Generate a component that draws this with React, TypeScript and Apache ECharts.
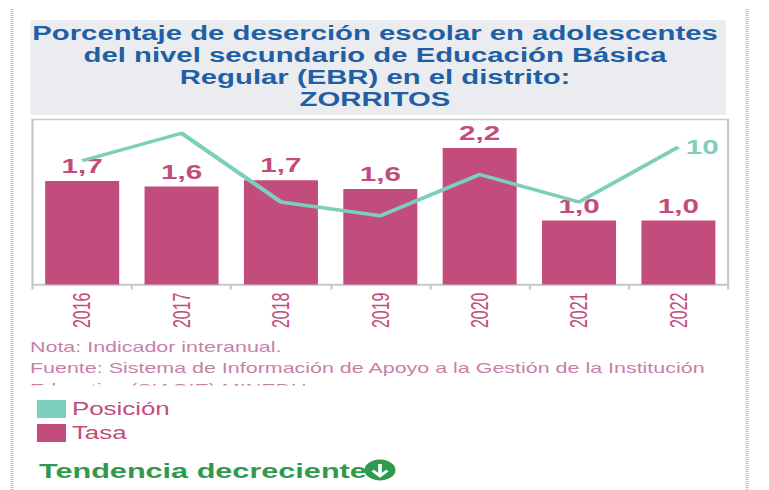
import React, { useEffect, useRef } from "react";
import * as echarts from "echarts";

const years = ["2016", "2017", "2018", "2019", "2020", "2021", "2022"];
const tasa = [1.67, 1.58, 1.68, 1.54, 2.2, 1.03, 1.03];
const tasaLabels = ["1,7", "1,6", "1,7", "1,6", "2,2", "1,0", "1,0"];
const posicion = [11, 9, 14, 15, 12, 14, 10];
const titleLines = [
  "Porcentaje de deserción escolar en adolescentes",
  "del nivel secundario de Educación Básica",
  "Regular (EBR) en el distrito:",
  "ZORRITOS",
];
const notes = [
  "Nota: Indicador interanual.",
  "Fuente: Sistema de Información de Apoyo a la Gestión de la Institución",
  "Educativa (SIAGIE) MINEDU",
];
const trendText = "Tendencia decreciente";

const S = 1.48; // the reference is stretched horizontally
const X = (v: number) => v / S;
const PINK = "#c24c7c";
const TEAL = "#7dcfbc";
const FONT = "'Liberation Sans', Arial, sans-serif";

export default function App() {
  const ref = useRef<HTMLDivElement>(null);
  useEffect(() => {
    const chart = echarts.init(ref.current!, undefined, { renderer: "svg" });
    chart.setOption({
      animation: false,
      textStyle: { fontFamily: FONT },
      title: {
        text: titleLines.join("\n"),
        left: X(375),
        top: 22,
        padding: 0,
        textAlign: "center",
        textStyle: { fontFamily: FONT, fontWeight: "bold", fontSize: 19.8, lineHeight: 22, color: "#1f5fa3" },
      },
      grid: {
        left: X(32.5),
        right: X(769 - 727.5),
        top: 119.5,
        height: 165,
        show: true,
        borderColor: "#c8c8c8",
        borderWidth: 1.5,
        containLabel: false,
      },
      legend: {
        orient: "vertical",
        left: X(37),
        top: 400,
        itemWidth: X(29),
        itemHeight: 18,
        itemGap: 6,
        padding: 0,
        selectedMode: false,
        textStyle: { color: PINK, fontSize: 17.5, fontFamily: FONT, padding: [0, 0, 0, -1] },
        data: [
          { name: "Posición", icon: "rect", itemStyle: { color: TEAL } },
          { name: "Tasa", icon: "rect", itemStyle: { color: PINK } },
        ],
      },
      xAxis: {
        type: "category",
        data: years,
        axisLine: { show: true, lineStyle: { color: "#c8c8c8", width: 1.5 } },
        axisTick: { show: true, length: 5, lineStyle: { color: "#c8c8c8", width: 1.5 } },
        axisLabel: { rotate: 90, color: PINK, fontSize: 16, margin: 8, fontFamily: FONT },
      },
      yAxis: [
        { type: "value", min: 0, max: 2.66, show: false },
        { type: "value", min: 8, max: 20, inverse: true, show: false },
      ],
      series: [
        {
          name: "Tasa",
          type: "bar",
          yAxisIndex: 0,
          barWidth: X(74),
          itemStyle: { color: PINK },
          data: tasa,
          label: {
            show: true,
            position: "top",
            distance: 5,
            color: PINK,
            fontWeight: "bold",
            fontSize: 20,
            fontFamily: FONT,
            formatter: (p: any) => tasaLabels[p.dataIndex],
          },
        },
        {
          name: "Posición",
          type: "line",
          yAxisIndex: 1,
          data: posicion,
          showSymbol: false,
          symbol: "none",
          itemStyle: { color: TEAL },
          lineStyle: { color: TEAL, width: 3.5 },
          z: 3,
          endLabel: {
            show: true,
            color: TEAL,
            fontWeight: "bold",
            fontSize: 20,
            fontFamily: FONT,
            distance: 5,
          },
        },
      ],
      graphic: [
        { type: "rect", z: -1, shape: { x: X(30.5), y: 20, width: X(695.5), height: 95 }, style: { fill: "#ebecf0" } },
        { type: "line", shape: { x1: X(12), y1: 9, x2: X(12), y2: 490 }, style: { stroke: "#bdbdbd", lineWidth: 2, lineDash: [1, 1] } },
        { type: "line", shape: { x1: X(747), y1: 9, x2: X(747), y2: 490 }, style: { stroke: "#bdbdbd", lineWidth: 2, lineDash: [1, 1] } },
        ...notes.map((t, i) => ({
          type: "text",
          z: 1,
          x: X(30),
          y: 339 + i * 21,
          style: { text: t, fill: "#c97fa8", fontSize: 14.5, fontFamily: FONT },
        })),
        { type: "rect", z: 2, shape: { x: X(20), y: 385.5, width: X(700), height: 12 }, style: { fill: "#ffffff" } },
        {
          type: "text",
          z: 1,
          x: X(39),
          y: 460,
          style: { text: trendText, fill: "#2f9a4d", fontSize: 20.7, fontWeight: "bold", fontFamily: FONT },
        },
        { type: "circle", z: 3, shape: { cx: X(380), cy: 470, r: 10.5 }, style: { fill: "#2f9a4d" } },
        { type: "line", z: 4, shape: { x1: X(380), y1: 464, x2: X(380), y2: 476 }, style: { stroke: "#fff", lineWidth: 2.5 } },
        {
          type: "polyline",
          z: 4,
          shape: { points: [[X(380) - 5, 470.5], [X(380), 476], [X(380) + 5, 470.5]] },
          style: { stroke: "#fff", lineWidth: 2.5, fill: "none" },
        },
      ],
    });
    return () => chart.dispose();
  }, []);
  return (
    <div
      ref={ref}
      style={{
        position: "absolute",
        left: 0,
        top: 0,
        width: 769 / S,
        height: 490,
        transform: `scaleX(${S})`,
        transformOrigin: "0 0",
        background: "#fff",
      }}
    />
  );
}
